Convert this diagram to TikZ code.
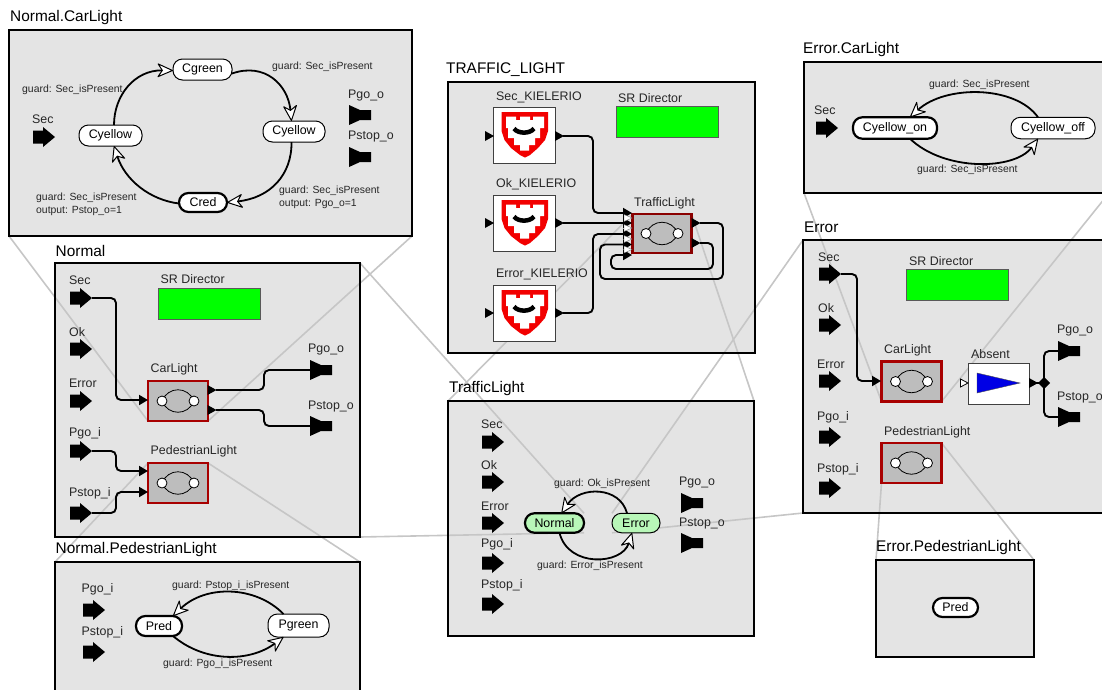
\documentclass[tikz,border=0pt]{standalone}
\usepackage{fontspec}
\setmainfont{Liberation Sans}
\usetikzlibrary{arrows.meta,calc}
\pgfdeclarelayer{panlayer}\pgfdeclarelayer{zoomlayer}\pgfdeclarelayer{borderlayer}
\pgfsetlayers{panlayer,zoomlayer,borderlayer,main}
\definecolor{panelgrey}{HTML}{E4E4E4}
\definecolor{zoomgrey}{HTML}{C6C6C6}
\definecolor{blockgrey}{HTML}{BDBDBD}
\definecolor{darkred}{HTML}{8A0000}
\definecolor{brightred}{HTML}{A80000}
\definecolor{stategreen}{HTML}{B8F7B8}
\tikzset{
  x=1pt,y=-1pt,
  panelbox/.style={anchor=north west,fill=panelgrey,inner sep=0,outer sep=0},
  titletxt/.style={anchor=west,inner sep=0,font=\fontsize{15.4}{17}\selectfont},
  lab/.style={anchor=west,inner sep=0,text=black!85,font=\fontsize{12.4}{14}\selectfont},
  guardtxt/.style={anchor=west,inner sep=0,text=black!85,font=\fontsize{10.4}{12}\selectfont},
  zoomline/.style={draw=zoomgrey,line width=1.6pt},
  thinstate/.style={draw=black,fill=white,line width=1pt,rounded corners=9.5pt,inner sep=0,outer sep=0,font=\fontsize{12.4}{14}\selectfont},
  thickstate/.style={thinstate,line width=2.2pt},
  trans/.style={draw=black,line width=1.8pt,-{Stealth[length=17pt,width=15pt,inset=5pt,fill=white,line width=1pt,round]}},
  wire/.style={draw=black,line width=1.9pt,rounded corners=5pt},
  wiretip/.style={wire,-{Triangle[length=9pt,width=10pt]}},
  srbox/.style={anchor=north west,fill=green,draw=black!65,line width=1pt,inner sep=0,outer sep=0},
  blockbox/.style={anchor=north west,fill=blockgrey,line width=2.2pt,inner sep=0,outer sep=0},
  whitebox/.style={anchor=north west,fill=white,draw=black!75,line width=1pt,inner sep=0,outer sep=0},
}
% name, x, y, w, h, title, title x
\newcommand{\panelnode}[7]{%
  \begin{pgfonlayer}{panlayer}
    \node[panelbox,minimum width=#4pt,minimum height=#5pt] (#1) at (#2,#3) {};
  \end{pgfonlayer}
  \begin{pgfonlayer}{borderlayer}
    \draw[black,line width=2pt] (#1.north west) rectangle (#1.south east);
  \end{pgfonlayer}
  \node[titletxt] (#1-title) at (#7,#3-12.5) {#6};
}
\newcommand{\inport}[3]{%
  \fill[black] (#2,#3-6.5) -- (#2+10,#3-6.5) -- (#2+10,#3-10) -- (#2+22,#3) -- (#2+10,#3+10) -- (#2+10,#3+6.5) -- (#2,#3+6.5) -- cycle;
  \coordinate (#1) at (#2+22,#3);
}
\newcommand{\outport}[3]{%
  \fill[black] (#2,#3-10) -- (#2+11,#3-5) -- (#2+22,#3-5) -- (#2+22,#3+5) -- (#2+11,#3+5) -- (#2,#3+10) -- cycle;
  \coordinate (#1) at (#2,#3);
}
\newcommand{\rtri}[3][black]{\fill[#1] (#2,#3-5) -- (#2+9,#3) -- (#2,#3+5) -- cycle;}
% name x y w h colour
\newcommand{\blocknode}[6]{%
  \node[blockbox,draw=#6,minimum width=#4pt,minimum height=#5pt] (#1) at (#2,#3) {};
  \begin{scope}[shift={(#1.center)}]
    \draw[black,line width=0.8pt] (-16,0) .. controls (-10,-15) and (10,-15) .. (16,0) .. controls (10,15) and (-10,15) .. (-16,0);
    \draw[black,fill=white,line width=0.8pt] (-16,0) circle (5);
    \draw[black,fill=white,line width=0.8pt] (16,0) circle (5);
  \end{scope}
}
% name x y
\newcommand{\kiel}[3]{%
  \node[whitebox,minimum width=62pt,minimum height=56pt] (#1) at (#2,#3) {};
  \begin{scope}[shift={(#1.north west)}]
    \fill[red!95!black] (8.5,5) -- (55,5) -- (55,24) -- (52,33) -- (45,41) -- (37,48) -- (32,50.5) -- (27,48) -- (18,41) -- (11.5,33) -- (8.5,24) -- cycle;
    \fill[white] (13,9.5) -- (23,9.5) -- (23,13) -- (27,13) -- (27,9.5) -- (37,9.5) -- (37,13) -- (40,13) -- (40,9.5) -- (51,9.5) -- (51,21) -- (47,21) -- (47,31) -- (42,31) -- (42,38) -- (36,38) -- (36,43.5) -- (27,43.5) -- (27,38) -- (21,38) -- (21,31) -- (15,31) -- (15,21) -- (13,21) -- cycle;
    \draw[black,line width=4.5pt] (21,21.5) .. controls (25,27) and (37,27) .. (41,21.5);
  \end{scope}
}
\begin{document}
\begin{tikzpicture}
\useasboundingbox (0,0) rectangle (1102,689);

% ---------- panels
\panelnode{ncl}{9}{30}{403}{206}{Normal.CarLight}{10}
\panelnode{tl}{448}{82}{307}{271}{TRAFFIC\_LIGHT}{446}
\panelnode{nor}{55}{263}{305}{274}{Normal}{55.5}
\panelnode{ecl}{804}{62}{305}{131}{Error.CarLight}{803}
\panelnode{err}{803}{240}{306}{273}{Error}{804}
\panelnode{tfl}{448}{401}{306}{235}{TrafficLight}{449}
\panelnode{npl}{55}{562}{305}{140}{Normal.PedestrianLight}{55.5}
\panelnode{epl}{876}{560}{158}{97}{Error.PedestrianLight}{876}

% ---------- Normal.CarLight
\node[thinstate,minimum width=59pt,minimum height=21pt] (cgreen) at (202.5,69.5) {Cgreen};
\node[thinstate,minimum width=62pt,minimum height=21pt] (cyr) at (294,131.5) {Cyellow};
\node[thinstate,minimum width=63pt,minimum height=21pt] (cyl) at (110.5,135.5) {Cyellow};
\node[thickstate,minimum width=48pt,minimum height=19pt] (cred) at (203,202.5) {Cred};
\draw[trans] ([xshift=3.5pt]cyl.north) .. controls (114,95) and (135,70) .. ([yshift=-1pt]cgreen.west);
\draw[trans] ([yshift=-4pt]cgreen.east) .. controls (265,62) and (288,85) .. ([xshift=-2.5pt]cyr.north);
\draw[trans] ([xshift=-2.5pt]cyr.south) .. controls (292,175) and (270,198) .. (cred.east);
\draw[trans] ([yshift=-1pt]cred.west) .. controls (150,200) and (125,180) .. ([xshift=3.5pt]cyl.south);
\node[guardtxt] (g1) at (272,67) {guard: Sec\_isPresent};
\node[guardtxt] (g2) at (22,89.5) {guard: Sec\_isPresent};
\node[guardtxt] (g3) at (279,191) {guard: Sec\_isPresent};
\node[guardtxt] (g4) at (279,204) {output: Pgo\_o=1};
\node[guardtxt] (g5) at (36,198) {guard: Sec\_isPresent};
\node[guardtxt] (g6) at (36,211) {output: Pstop\_o=1};
\node[lab] (l1) at (32,119) {Sec};
\inport{ncl-sec}{33}{137}
\node[lab] (l2) at (348,96) {Pgo\_o};
\outport{ncl-go}{349}{115}
\node[lab] (l3) at (348,137) {Pstop\_o};
\outport{ncl-stop}{349}{157}

% ---------- TRAFFIC_LIGHT
\node[lab] (l4) at (496,97) {Sec\_KIELERIO};
\kiel{ksec}{493}{107}
\node[lab] (l5) at (496,184) {Ok\_KIELERIO};
\kiel{kok}{493}{195}
\node[lab] (l6) at (496,274) {Error\_KIELERIO};
\kiel{kerr}{493}{285}
\rtri{485}{136}\rtri{555}{136}
\rtri{485}{223}\rtri{555}{223}
\rtri{485}{313}\rtri{555}{313}
\node[lab] (l7) at (618,98) {SR Director};
\node[srbox,minimum width=102pt,minimum height=31pt] (tl-sr) at (616,106) {};
\node[lab] (l8) at (634,203) {TrafficLight};
\blocknode{tlb}{632.5}{214}{59}{39}{darkred}
\coordinate (tlb-i1) at (632,213);
\coordinate (tlb-i2) at (632,223);
\coordinate (tlb-i3) at (632,234);
\coordinate (tlb-i4) at (632,244.5);
\coordinate (tlb-i5) at (632,255);
\coordinate (ksec-o) at (563,136);
\coordinate (kok-o) at (563,223);
\coordinate (kerr-o) at (563,313);
\coordinate (tlb-o1) at (700,223);
\coordinate (tlb-o2) at (700,243);
\draw[wiretip] (ksec-o) -| (593,213) -- (tlb-i1);
\draw[wiretip] (kok-o) -- (tlb-i2);
\draw[wiretip] (kerr-o) -| (593,234) -- (tlb-i3);
\draw[wiretip] (tlb-o1) -| (723,279) -| (600,244.5) -- (tlb-i4);
\draw[wiretip] (tlb-o2) -| (713,269) -| (611,255) -- (tlb-i5);
\foreach \yy in {218,228,239,249.5} {\filldraw[fill=white,draw=black!60,line width=0.3pt] (624,\yy-3.5) -- (632,\yy) -- (624,\yy+3.5) -- cycle;}
\rtri{691.5}{223}\rtri{691.5}{243}

% ---------- Normal
\node[lab] (n1) at (69,280) {Sec};
\inport{n-sec}{70}{298}
\node[lab] (n2) at (69,332) {Ok};
\inport{n-ok}{70}{349}
\node[lab] (n3) at (69,383) {Error};
\inport{n-err}{70}{401}
\node[lab] (n4) at (69,433) {Pgo\_i};
\inport{n-goi}{70}{451}
\node[lab] (n5) at (69,493) {Pstop\_i};
\inport{n-stopi}{70}{513}
\node[lab] (n6) at (160.5,279) {SR Director};
\node[srbox,minimum width=102pt,minimum height=31pt] (n-sr) at (158,288) {};
\node[lab] (n7) at (150.5,369) {CarLight};
\blocknode{n-cl}{148}{381}{60}{40}{brightred}
\node[lab] (n8) at (150.5,451) {PedestrianLight};
\blocknode{n-pl}{148}{463}{60}{40}{brightred}
\node[lab] (n9) at (308,350) {Pgo\_o};
\outport{n-go}{310}{370}
\node[lab] (n10) at (308,407) {Pstop\_o};
\outport{n-stop}{310}{426}
\coordinate (n-cl-i) at (148,400);
\coordinate (n-pl-i1) at (148,471);
\coordinate (n-pl-i2) at (148,492);
\coordinate (n-cl-o1) at (216,390);
\coordinate (n-cl-o2) at (216,410);
\draw[wiretip] (n-sec) -| (116,400) -- (n-cl-i);
\draw[wiretip] (n-goi) -| (116,471) -- (n-pl-i1);
\draw[wiretip] (n-stopi) -| (116,492) -- (n-pl-i2);
\draw[wire] (n-cl-o1) -| (264,370) -- (n-go);
\draw[wire] (n-cl-o2) -| (264,426) -- (n-stop);
\rtri{207.5}{390}\rtri{207.5}{410}

% ---------- Normal.PedestrianLight
\node[lab] (p1) at (81.5,589) {Pgo\_i};
\inport{p-goi}{83}{610}
\node[lab] (p2) at (81.5,632) {Pstop\_i};
\inport{p-stopi}{83}{652}
\node[thickstate,minimum width=46pt,minimum height=20pt] (pred) at (159,626) {Pred};
\node[thinstate,minimum width=61pt,minimum height=23pt] (pgreen) at (298.5,625.5) {Pgreen};
\draw[trans] ([xshift=-15pt]pgreen.north) .. controls (255,585) and (205,585) .. ([xshift=14pt]pred.north);
\draw[trans] ([xshift=14pt]pred.south) .. controls (205,663) and (250,662) .. ([xshift=-15pt]pgreen.south);
\node[guardtxt] (p3) at (172,586) {guard: Pstop\_i\_isPresent};
\node[guardtxt] (p4) at (163,664) {guard: Pgo\_i\_isPresent};

% ---------- TrafficLight
\node[lab] (t1) at (481,424) {Sec};
\inport{t-sec}{482}{442}
\node[lab] (t2) at (481,465) {Ok};
\inport{t-ok}{482}{482}
\node[lab] (t3) at (481,506) {Error};
\inport{t-err}{482}{523}
\node[lab] (t4) at (481,544) {Pgo\_i};
\inport{t-goi}{482}{563}
\node[lab] (t5) at (481,585) {Pstop\_i};
\inport{t-stopi}{482}{604}
\node[lab] (t6) at (679,483) {Pgo\_o};
\outport{t-go}{681}{503}
\node[lab] (t7) at (679,524) {Pstop\_o};
\outport{t-stop}{681}{543}
\node[thickstate,fill=stategreen,minimum width=59pt,minimum height=19.5pt] (snormal) at (554.5,523) {Normal};
\node[thinstate,fill=stategreen,minimum width=48pt,minimum height=19.5pt] (serror) at (636,523) {Error};
\draw[trans] ([xshift=-9pt]serror.north) .. controls (620,486) and (580,486) .. ([xshift=7pt]snormal.north);
\draw[trans] ([xshift=5pt]snormal.south) .. controls (568,568) and (622,565) .. ([xshift=-4pt]serror.south);
\node[guardtxt] (t8) at (554,484) {guard: Ok\_isPresent};
\node[guardtxt] (t9) at (537,566) {guard: Error\_isPresent};

% ---------- Error.CarLight
\node[lab] (e1) at (814,110) {Sec};
\inport{e-sec}{816}{128}
\node[thickstate,minimum width=84pt,minimum height=21.5pt] (con) at (895,128) {Cyellow\_on};
\node[thinstate,minimum width=84pt,minimum height=21.5pt] (coff) at (1053,128) {Cyellow\_off};
\draw[trans] ([xshift=-15pt]coff.north) .. controls (1015,85) and (945,85) .. ([xshift=15pt]con.north);
\draw[trans] ([xshift=15pt]con.south) .. controls (945,172) and (1015,170) .. ([xshift=-15pt]coff.south);
\node[guardtxt] (e2) at (929,85) {guard: Sec\_isPresent};
\node[guardtxt] (e3) at (917,170) {guard: Sec\_isPresent};

% ---------- Error
\node[lab] (r1) at (818,257) {Sec};
\inport{r-sec}{819}{274}
\node[lab] (r2) at (818,308) {Ok};
\inport{r-ok}{819}{325}
\node[lab] (r3) at (817,364) {Error};
\inport{r-err}{819}{381}
\node[lab] (r4) at (817,417) {Pgo\_i};
\inport{r-goi}{819}{437}
\node[lab] (r5) at (817,469) {Pstop\_i};
\inport{r-stopi}{819}{488}
\node[lab] (r6) at (909,261) {SR Director};
\node[srbox,minimum width=102pt,minimum height=31pt] (r-sr) at (906.5,269) {};
\node[lab] (r7) at (884,350) {CarLight};
\blocknode{r-cl}{881.5}{361.5}{60}{40}{brightred}
\node[lab] (r8) at (884,432) {PedestrianLight};
\blocknode{r-pl}{881.5}{443}{60}{40}{brightred}
\node[lab] (r9) at (971,354) {Absent};
\node[whitebox,minimum width=61pt,minimum height=41pt] (absent) at (968,363) {};
\fill[blue!90!black,draw=black!70,line width=0.4pt] (977,373) -- (1020,383) -- (977,393) -- cycle;
\filldraw[fill=white,draw=black,line width=0.8pt] (960.5,379) -- (968,383) -- (960.5,387) -- cycle;
\node[lab] (r10) at (1057,331) {Pgo\_o};
\outport{r-go}{1058}{351}
\node[lab] (r11) at (1057,398) {Pstop\_o};
\outport{r-stop}{1058}{417}
\coordinate (r-cl-i) at (881,381);
\coordinate (junction) at (1044,383);
\coordinate (absent-o) at (1036,383);
\draw[wiretip] (r-sec) -| (857,381) -- (r-cl-i);
\draw[wire] (absent-o) -- (junction);
\draw[wire] (junction) |- (r-go);
\draw[wire] (junction) |- (r-stop);
\rtri{1029}{383}
\fill[black] (1044,377) -- (1050,383) -- (1044,389) -- (1038,383) -- cycle;

% ---------- Error.PedestrianLight
\node[thickstate,minimum width=45pt,minimum height=19pt] (epred) at (955.5,607.5) {Pred};

% ---------- zoom lines
\begin{pgfonlayer}{zoomlayer}
\draw[zoomline] (ncl.south west) -- (n-cl.south west);
\draw[zoomline] (ncl.south east) -- (n-cl.south east);
\draw[zoomline] (npl.north west) -- (n-pl.north west);
\draw[zoomline] (npl.north east) -- (n-pl.north east);
\draw[zoomline] (tfl.north west) -- (tlb.north west);
\draw[zoomline] (tfl.north east) -- (tlb.north east);
\draw[zoomline] (nor.north east) -- (snormal.north east);
\draw[zoomline] (nor.south east) -- (snormal.south east);
\draw[zoomline] (err.north west) -- (serror.north west);
\draw[zoomline] (err.south west) -- (serror.south west);
\draw[zoomline] (ecl.south west) -- (r-cl.south west);
\draw[zoomline] (ecl.south east) -- (r-cl.south east);
\draw[zoomline] (epl.north west) -- (r-pl.south west);
\draw[zoomline] (epl.north east) -- (r-pl.north east);
\end{pgfonlayer}
\end{tikzpicture}
\end{document}
